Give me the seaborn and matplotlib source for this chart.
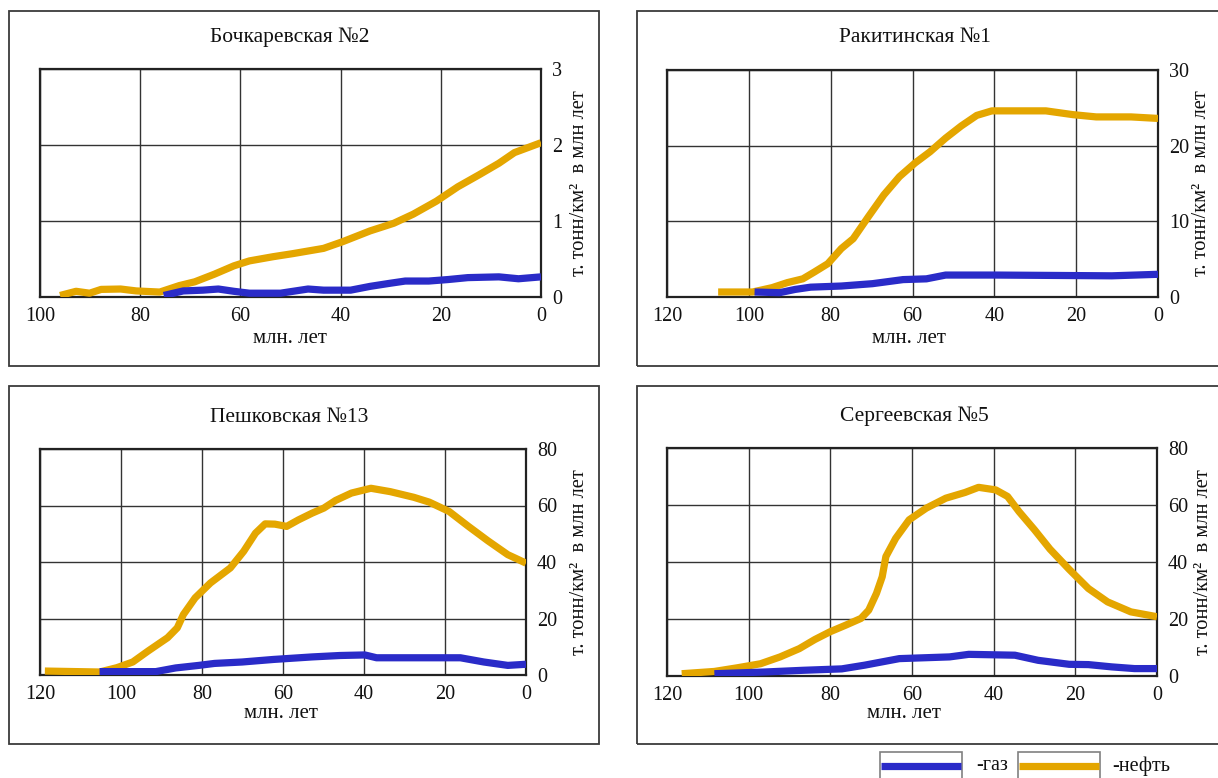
import numpy as np
import pandas as pd
import matplotlib
matplotlib.use('Agg')
import matplotlib.pyplot as plt
import seaborn as sns
from matplotlib.patches import Rectangle
from matplotlib.lines import Line2D

# ---------------- data ----------------
titles = ["Бочкаревская №2", "Ракитинская №1", "Пешковская №13", "Сергеевская №5"]
x_label = "млн. лет"
y_label = "т. тонн/км²  в млн лет"
legend_labels = ["-газ", "-нефть"]

# Бочкаревская №2
p1_oil_t = [96, 92.8, 90.1, 87.8, 83.9, 80.8, 76.1, 72.2, 69.1, 65.2, 61.3, 58.2, 53.5, 49.6,
            43.4, 39.5, 34.1, 29.4, 25.5, 20.9, 16.6, 12.3, 8.4, 5.3, 0]
p1_oil_v = [0.02, 0.075, 0.05, 0.1, 0.105, 0.08, 0.065, 0.15, 0.2, 0.3, 0.41, 0.475, 0.53, 0.57,
            0.64, 0.73, 0.87, 0.97, 1.09, 1.26, 1.45, 1.61, 1.76, 1.90, 2.03]
p1_gas_t = [75.3, 71.4, 67.5, 64.4, 61.3, 58.2, 52.0, 46.5, 43.4, 38.0, 34.1, 30.2, 27.1, 22.4,
            18.5, 14.6, 8.4, 4.5, 0]
p1_gas_v = [0.02, 0.08, 0.09, 0.105, 0.075, 0.05, 0.05, 0.105, 0.09, 0.09, 0.14, 0.18, 0.21, 0.21,
            0.23, 0.255, 0.265, 0.24, 0.265]

# Ракитинская №1
p2_oil_t = [107.5, 99.1, 94.3, 90.6, 86.8, 84.0, 80.7, 77.4, 74.5, 70.8, 67.0, 63.2, 59.4, 55.7,
            51.9, 48.1, 44.3, 40.6, 34.9, 27.4, 20.8, 15.1, 6.6, 0]
p2_oil_v = [0.66, 0.66, 1.24, 1.9, 2.4, 3.3, 4.4, 6.4, 7.7, 10.6, 13.5, 15.9, 17.7, 19.2,
            21.0, 22.6, 24.0, 24.6, 24.6, 24.6, 24.1, 23.8, 23.8, 23.6]
p2_gas_t = [98.6, 92.5, 88.7, 84.9, 77.4, 69.8, 62.3, 56.6, 51.9, 39.6, 11.3, 0]
p2_gas_v = [0.66, 0.57, 1.0, 1.3, 1.45, 1.76, 2.3, 2.4, 2.9, 2.9, 2.8, 3.0]

# Пешковская №13
p3_oil_t = [118.8, 105.3, 101.0, 97.1, 93.3, 88.5, 86.1, 84.6, 81.7, 77.9, 73.0, 69.7, 66.8, 64.4,
            62.0, 59.1, 56.2, 52.8, 49.9, 47.0, 43.1, 38.3, 33.5, 27.7, 23.9, 19.0, 14.2, 9.4, 4.5, 0]
p3_oil_v = [1.4, 1.06, 2.6, 4.6, 8.5, 13.2, 16.7, 21.4, 27.3, 32.6, 37.9, 43.8, 50.2, 53.5,
            53.4, 52.6, 54.9, 57.3, 59.1, 61.8, 64.4, 66.1, 64.9, 62.9, 61.2, 57.9, 52.6, 47.5, 42.6, 39.6]
p3_gas_t = [105.3, 91.4, 86.5, 80.8, 76.9, 70.1, 62.4, 52.8, 46.0, 39.8, 36.9, 23.9, 16.2, 10.4, 4.5, 0]
p3_gas_v = [1.2, 1.2, 2.5, 3.4, 4.1, 4.6, 5.5, 6.4, 6.9, 7.1, 6.1, 6.1, 6.1, 4.6, 3.4, 3.8]

# Сергеевская №5
p4_oil_t = [116.4, 108.4, 102.7, 97.1, 92.3, 87.6, 83.8, 80.1, 76.3, 72.5, 70.6, 68.7, 67.3, 66.4,
            64.0, 60.7, 56.5, 51.7, 47.0, 43.7, 39.5, 36.6, 33.8, 30.0, 26.2, 21.5, 16.8, 12.1, 6.4, 0]
p4_oil_v = [0.8, 1.6, 2.9, 4.3, 6.7, 9.6, 12.8, 15.5, 17.8, 20.2, 23.1, 29.0, 34.8, 41.9,
            48.3, 54.8, 58.9, 62.4, 64.4, 66.2, 65.3, 63.0, 57.7, 51.3, 44.5, 37.4, 30.7, 26.0, 22.5, 20.8]
p4_gas_t = [108.4, 96.1, 86.7, 77.2, 71.6, 63.1, 50.8, 46.1, 34.8, 29.1, 21.5, 16.8, 11.1, 5.5, 0]
p4_gas_v = [0.8, 1.4, 2.0, 2.5, 3.8, 6.1, 6.7, 7.6, 7.3, 5.5, 4.1, 4.0, 3.2, 2.6, 2.6]

x_max = [100, 120, 120, 120]
y_max = [3, 30, 80, 80]
y_step = [1, 10, 20, 20]

# ---------------- style ----------------
sns.set_theme(style='white')
plt.rcParams['font.family'] = ['Liberation Serif', 'DejaVu Serif']

GAS = '#2a2bc8'
OIL = '#e4a600'
TXT = '#111111'
W, H = 1218, 778
fig = plt.figure(figsize=(W / 100, H / 100), dpi=100)
fig.patch.set_facecolor('white')

def fx(px):
    return px / W

def fy(py):
    return 1 - py / H

# axes boxes in pixels: left, top, right, bottom
ax_px = [(40, 69, 541, 297), (667, 70, 1158, 297), (40, 449, 526, 675), (667, 448, 1157, 676)]
frame_px = [(8.5, 10.5, 598.5, 366), (637, 10.5, 1240, 366), (8.5, 386.5, 598.5, 743.5), (637, 386.5, 1240, 743.5)]
title_px = [(290, 37), (915, 37), (289, 417), (914, 416)]
xlab_px = [(290, 339), (909, 339), (281, 713), (904, 713)]
ylab_x = [579, 1201, 580, 1203]

series = [
    (p1_oil_t, p1_oil_v, p1_gas_t, p1_gas_v),
    (p2_oil_t, p2_oil_v, p2_gas_t, p2_gas_v),
    (p3_oil_t, p3_oil_v, p3_gas_t, p3_gas_v),
    (p4_oil_t, p4_oil_v, p4_gas_t, p4_gas_v),
]

for i in range(4):
    # panel frame
    l, t, r, b = frame_px[i]
    fig.add_artist(Rectangle((fx(l), fy(b)), fx(r - l), (b - t) / H, transform=fig.transFigure,
                             fill=False, ec='#3a3a3a', lw=1.3))
    l, t, r, b = ax_px[i]
    ax = fig.add_axes([fx(l), fy(b), fx(r - l), (b - t) / H])
    ot, ov, gt, gv = series[i]
    df_oil = pd.DataFrame({'t': ot, 'v': ov})
    df_gas = pd.DataFrame({'t': gt, 'v': gv})
    sns.lineplot(data=df_oil, x='t', y='v', ax=ax, color=OIL, lw=5.2, sort=False,
                 solid_capstyle='butt', zorder=3)
    sns.lineplot(data=df_gas, x='t', y='v', ax=ax, color=GAS, lw=5.2, sort=False,
                 solid_capstyle='butt', zorder=4)
    ax.set_xlim(x_max[i], 0)
    ax.set_ylim(0, y_max[i])
    ax.set_xticks(np.arange(0, x_max[i] + 1, 20))
    ax.set_yticks(np.arange(0, y_max[i] + 0.01, y_step[i]))
    ax.yaxis.tick_right()
    ax.tick_params(axis='both', length=0, labelsize=14.5, colors=TXT)
    ax.tick_params(axis='x', pad=7)
    ax.tick_params(axis='y', pad=8)
    ax.set_xlabel('')
    ax.set_ylabel('')
    ax.grid(True, color='#333333', lw=1.0)
    ax.set_axisbelow(True)
    for s in ax.spines.values():
        s.set_visible(True)
        s.set_color('#222222')
        s.set_linewidth(1.6)
    ax.set_facecolor('white')
    # texts
    tx, ty = title_px[i]
    fig.text(fx(tx), fy(ty), titles[i], ha='center', va='center', fontsize=15.5, color=TXT)
    xx, xy = xlab_px[i]
    fig.text(fx(xx), fy(xy), x_label, ha='center', va='center', fontsize=15, color=TXT)
    fig.text(fx(ylab_x[i]), fy((t + b) / 2), y_label, ha='center', va='center', rotation=90,
             fontsize=14.8, color=TXT)

# ---------------- legend ----------------
leg_boxes = [(880, 752, 962, 800), (1018, 752, 1100, 800)]
leg_cols = [GAS, OIL]
leg_text_x = [976, 1112]
for (l, t, r, b), c, lab, tx in zip(leg_boxes, leg_cols, legend_labels, leg_text_x):
    fig.add_artist(Rectangle((fx(l), fy(b)), fx(r - l), (b - t) / H, transform=fig.transFigure,
                             fill=False, ec='#808080', lw=1.2))
    fig.add_artist(Line2D([fx(l + 1), fx(r - 1)], [fy(766), fy(766)], transform=fig.transFigure,
                          color=c, lw=5.2, solid_capstyle='butt'))
    fig.text(fx(tx), fy(766), lab, ha='left', va='center', fontsize=14.5, color=TXT)

fig.savefig('out.png', dpi=100, facecolor='white')
